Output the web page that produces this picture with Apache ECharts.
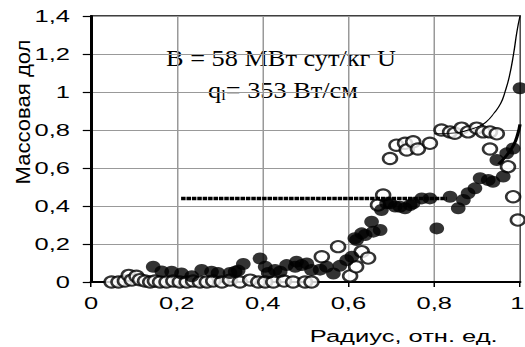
<!DOCTYPE html>
<html>
<head>
<meta charset="utf-8">
<script src="https://cdn.jsdelivr.net/npm/echarts@6/dist/echarts.min.js"></script>
<style>
  html, body { margin: 0; padding: 0; background: #fff; overflow: hidden; }
  #wrap { width: 525px; height: 347px; overflow: hidden; }
  /* the chart is laid out narrow and widened horizontally */
  #chart { width: 350px; height: 347px; transform: scaleX(1.5); transform-origin: 0 0; }
</style>
</head>
<body>
<div id="wrap"><div id="chart"></div></div>
<script>
// Measured points: relative radius and mass fraction
const openRadius = [0.048, 0.064, 0.079, 0.088, 0.095, 0.106, 0.114, 0.126, 0.138, 0.149, 0.161, 0.176, 0.192, 0.207, 0.223, 0.238, 0.254, 0.27, 0.285, 0.305, 0.324, 0.347, 0.371, 0.39, 0.406, 0.425, 0.45, 0.471, 0.499, 0.514, 0.538, 0.576, 0.604, 0.618, 0.631, 0.646, 0.669, 0.681, 0.697, 0.712, 0.732, 0.736, 0.751, 0.762, 0.79, 0.817, 0.837, 0.848, 0.864, 0.879, 0.899, 0.914, 0.93, 0.946, 0.93, 0.972, 0.984, 0.995];
const openFraction = [0.0, 0.0, 0.005, 0.035, 0.01, 0.03, 0.012, 0.005, 0.0, 0.005, 0.0, 0.0, 0.005, 0.0, 0.0, 0.005, 0.0, 0.0, 0.005, 0.0, 0.01, 0.0, 0.01, 0.0, 0.0, 0.0, 0.005, 0.0, 0.0, 0.0, 0.133, 0.186, 0.032, 0.08, 0.16, 0.126, 0.405, 0.458, 0.65, 0.72, 0.73, 0.695, 0.738, 0.70, 0.73, 0.80, 0.79, 0.783, 0.81, 0.79, 0.81, 0.79, 0.79, 0.78, 0.70, 0.607, 0.449, 0.326];

const filledRadius = [0.145, 0.165, 0.188, 0.211, 0.235, 0.258, 0.281, 0.296, 0.324, 0.336, 0.343, 0.355, 0.394, 0.406, 0.413, 0.429, 0.441, 0.456, 0.476, 0.479, 0.491, 0.503, 0.514, 0.534, 0.549, 0.565, 0.58, 0.596, 0.608, 0.615, 0.619, 0.631, 0.639, 0.654, 0.658, 0.674, 0.677, 0.689, 0.697, 0.709, 0.72, 0.732, 0.744, 0.751, 0.771, 0.79, 0.806, 0.837, 0.856, 0.868, 0.879, 0.895, 0.907, 0.926, 0.937, 0.961, 0.946, 0.969, 0.984, 1.0];
const filledFraction = [0.08, 0.055, 0.054, 0.045, 0.03, 0.063, 0.054, 0.047, 0.047, 0.054, 0.06, 0.095, 0.124, 0.08, 0.047, 0.063, 0.054, 0.089, 0.08, 0.107, 0.089, 0.098, 0.063, 0.065, 0.08, 0.045, 0.085, 0.115, 0.133, 0.23, 0.221, 0.256, 0.247, 0.317, 0.265, 0.274, 0.379, 0.414, 0.414, 0.397, 0.396, 0.388, 0.405, 0.414, 0.44, 0.44, 0.282, 0.449, 0.388, 0.432, 0.467, 0.493, 0.546, 0.537, 0.528, 0.555, 0.642, 0.677, 0.703, 1.02];

// Calculated curves
const curveRadius = [0.80, 0.85, 0.88, 0.90, 0.92, 0.94, 0.955, 0.965, 0.975, 0.985, 0.993, 1.0];
const curveFraction = [0.78, 0.785, 0.80, 0.815, 0.84, 0.89, 0.94, 1.0, 1.08, 1.2, 1.32, 1.4];
const edgeRadius = [0.95, 0.97, 0.985, 0.995, 1.0];
const edgeFraction = [0.62, 0.67, 0.72, 0.78, 0.83];

// Mean level
const meanRadius = [0.21, 0.83];
const meanFraction = [0.44, 0.44];

const xTicks = [0, 0.2, 0.4, 0.6, 0.8, 1];
const yTicks = [0, 0.2, 0.4, 0.6, 0.8, 1, 1.2, 1.4];

const xTitle = 'Радиус, отн. ед.';
const yTitle = 'Массовая дол';
const noteLine1 = 'B = 58 МВт сут/кг U';
const noteLine2 = 'q{sub|l}= 353 Вт/см';

const SX = 1.5; // horizontal widening of the whole drawing

const pairs = (xs, ys) => xs.map((x, i) => [x, ys[i]]);
const fmt = v => String(+(+v).toFixed(1)).replace('.', ',');
// the last x label sits against the right edge, nudge it inward
const xFmt = v => (v >= xTicks[xTicks.length - 1] ? '{edge|' + fmt(v) + '}' : fmt(v));

const chart = echarts.init(document.getElementById('chart'), null, { renderer: 'svg' });

const sansFont = "'Liberation Sans', Arial, sans-serif";
const serifFont = "'Liberation Serif', 'Times New Roman', serif";

chart.setOption({
  animation: false,
  backgroundColor: '#fff',
  grid: {
    left: 91 / SX, right: 5 / SX, top: 16, bottom: 65,
    outerBoundsMode: 'none', containLabel: false,
    show: true, borderColor: '#000', borderWidth: 1.3, backgroundColor: 'transparent'
  },
  xAxis: {
    type: 'value', min: xTicks[0], max: xTicks[xTicks.length - 1], interval: 0.2,
    name: xTitle, nameLocation: 'middle', nameGap: 46,
    nameTextStyle: { fontFamily: sansFont, fontSize: 17, color: '#000', padding: [0, 0, 0, 131] },
    axisLine: { lineStyle: { color: '#000', width: 2 } },
    axisTick: { show: true, inside: false, length: 5, lineStyle: { color: '#000', width: 1 } },
    axisLabel: {
      formatter: xFmt, fontFamily: sansFont, fontSize: 17, color: '#000', margin: 13,
      rich: { edge: { fontFamily: sansFont, fontSize: 17, color: '#000', padding: [0, 3.5, 0, 0] } }
    },
    splitLine: { show: true, lineStyle: { color: '#999', width: 1 } }
  },
  yAxis: {
    type: 'value', min: yTicks[0], max: yTicks[yTicks.length - 1], interval: 0.2,
    axisLine: { lineStyle: { color: '#000', width: 2 } },
    axisTick: { show: true, inside: false, length: 5.5, lineStyle: { color: '#000', width: 1.2 } },
    axisLabel: { formatter: fmt, fontFamily: sansFont, fontSize: 17, color: '#000', margin: 14 },
    splitLine: { show: true, lineStyle: { color: '#999', width: 1 } }
  },
  graphic: [
    {
      type: 'text', x: 15, y: 112, rotation: Math.PI / 2, scaleX: 1.7,
      style: { text: yTitle, fontFamily: sansFont, fontSize: 13, fill: '#000',
               align: 'center', verticalAlign: 'middle', textAlign: 'center', textVerticalAlign: 'middle' }
    },
    {
      type: 'text', x: 281 / SX, y: 58, scaleX: 0.78,
      style: { text: noteLine1, fontFamily: serifFont, fontSize: 22.5, fill: '#000',
               align: 'center', verticalAlign: 'middle', textAlign: 'center', textVerticalAlign: 'middle' }
    },
    {
      type: 'text', x: 283 / SX, y: 90, scaleX: 0.78,
      style: { text: noteLine2, fontFamily: serifFont, fontSize: 22.5, fill: '#000',
               align: 'center', verticalAlign: 'middle', textAlign: 'center', textVerticalAlign: 'middle',
               rich: { sub: { fontFamily: serifFont, fontSize: 14, lineHeight: 14, verticalAlign: 'bottom', fill: '#000' } } }
    }
  ],
  series: [
    {
      type: 'line', data: pairs(curveRadius, curveFraction), smooth: true, symbol: 'none',
      lineStyle: { color: '#000', width: 0.9 }, silent: true
    },
    {
      type: 'line', data: pairs(edgeRadius, edgeFraction), smooth: true, symbol: 'none',
      lineStyle: { color: '#000', width: 2.2 }, silent: true
    },
    {
      type: 'line', data: pairs(meanRadius, meanFraction), symbol: 'none',
      lineStyle: { color: '#000', width: 3.5, type: [3, 0.6] }, silent: true
    },
    {
      type: 'scatter', data: pairs(openRadius, openFraction), symbol: 'circle', symbolSize: [9.3, 11.2],
      itemStyle: { color: '#fff', borderColor: '#000', borderWidth: 1.9 }
    },
    {
      type: 'scatter', data: pairs(filledRadius, filledFraction), symbol: 'circle', symbolSize: [9.8, 12],
      itemStyle: { color: '#000', borderColor: '#000', borderWidth: 0 }
    }
  ]
});
</script>
</body>
</html>
